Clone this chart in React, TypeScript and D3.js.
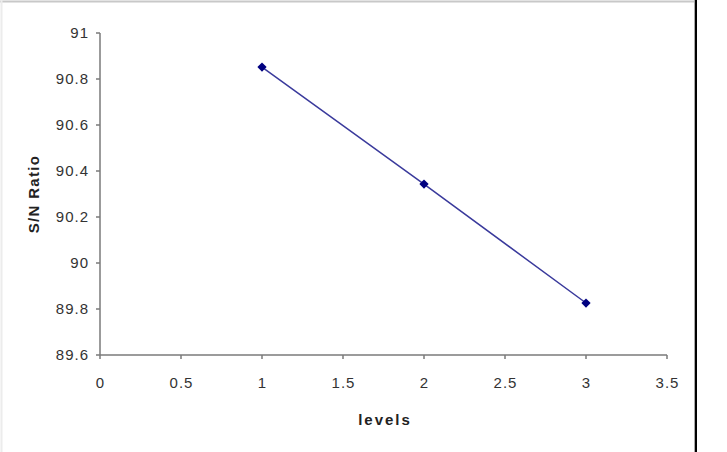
import { useEffect, useRef } from 'react'
import * as d3 from 'd3'

const levels = [1, 2, 3]
const snRatio = [90.852, 90.343, 89.826]
const xTicks = [0, 0.5, 1, 1.5, 2, 2.5, 3, 3.5]
const yTicks = [89.6, 89.8, 90, 90.2, 90.4, 90.6, 90.8, 91]

export default function App() {
  const ref = useRef<SVGSVGElement>(null)

  useEffect(() => {
    if (!ref.current) return
    const svg = d3.select(ref.current)
    svg.selectAll('*').remove()

    const width = 727
    const height = 452
    svg.attr('width', width).attr('height', height)

    // chart frame
    svg.append('line').attr('x1', 0).attr('x2', 696).attr('y1', 1.5).attr('y2', 1.5)
      .attr('stroke', '#c8c8c8').attr('stroke-width', 2)
    svg.append('line').attr('x1', 1.5).attr('x2', 1.5).attr('y1', 0).attr('y2', height)
      .attr('stroke', '#ececec').attr('stroke-width', 2)
    svg.append('line').attr('x1', 696).attr('x2', 696).attr('y1', 0).attr('y2', height)
      .attr('stroke', '#000').attr('stroke-width', 2)
    svg.append('line').attr('x1', 694.5).attr('x2', 694.5).attr('y1', 0).attr('y2', height)
      .attr('stroke', '#aaa').attr('stroke-width', 1)

    const x = d3.scaleLinear().domain([0, 3.5]).range([100, 667])
    const y = d3.scaleLinear().domain([89.6, 91]).range([355, 33])

    const font = 'Liberation Sans, Arial, sans-serif'
    const axisColor = '#7a7a7a'

    // y axis
    svg.append('line').attr('x1', x(0)).attr('x2', x(0)).attr('y1', y(89.6)).attr('y2', y(91))
      .attr('stroke', axisColor).attr('stroke-width', 1.5)
    yTicks.forEach(t => {
      svg.append('line').attr('x1', x(0) - 4).attr('x2', x(0)).attr('y1', y(t)).attr('y2', y(t))
        .attr('stroke', axisColor).attr('stroke-width', 1.5)
      svg.append('text').attr('x', x(0) - 11).attr('y', y(t)).attr('dy', '0.36em')
        .attr('text-anchor', 'end').style('font-family', font).style('font-size', '15px')
        .style('letter-spacing', '1px').style('fill', '#333').text(String(t))
    })

    // x axis
    svg.append('line').attr('x1', x(0)).attr('x2', x(3.5)).attr('y1', y(89.6)).attr('y2', y(89.6))
      .attr('stroke', axisColor).attr('stroke-width', 1.5)
    xTicks.forEach(t => {
      svg.append('line').attr('x1', x(t)).attr('x2', x(t)).attr('y1', y(89.6)).attr('y2', y(89.6) + 4)
        .attr('stroke', axisColor).attr('stroke-width', 1.5)
      svg.append('text').attr('x', x(t) + 0.5).attr('y', y(89.6) + 33)
        .attr('text-anchor', 'middle').style('font-family', font).style('font-size', '15px')
        .style('letter-spacing', '1px').style('fill', '#333').text(String(t))
    })

    // axis titles
    svg.append('text').attr('x', 385).attr('y', 425).attr('text-anchor', 'middle')
      .style('font-family', font).style('font-size', '15px').style('font-weight', 'bold')
      .style('letter-spacing', '2px').style('fill', '#222').text('levels')
    svg.append('text').attr('transform', 'translate(38.5,194) rotate(-90)').attr('text-anchor', 'middle')
      .style('font-family', font).style('font-size', '15px').style('font-weight', 'bold')
      .style('letter-spacing', '1.3px').style('fill', '#222').text('S/N Ratio')

    const pts = levels.map((l, i) => [l, snRatio[i]] as [number, number])
    const line = d3.line<[number, number]>().x(d => x(d[0])).y(d => y(d[1]))
    svg.append('path').datum(pts).attr('d', line).attr('fill', 'none')
      .attr('stroke', '#3a3a9c').attr('stroke-width', 1.5)

    const diamond = d3.symbol().type(d3.symbolDiamond2).size(55)
    svg.selectAll('path.pt').data(pts).enter().append('path').attr('class', 'pt')
      .attr('d', diamond)
      .attr('transform', d => `translate(${x(d[0])},${y(d[1])})`)
      .attr('fill', '#000080')
  }, [])

  return <svg ref={ref} style={{ position: 'absolute', left: 0, top: 0 }}></svg>
}
